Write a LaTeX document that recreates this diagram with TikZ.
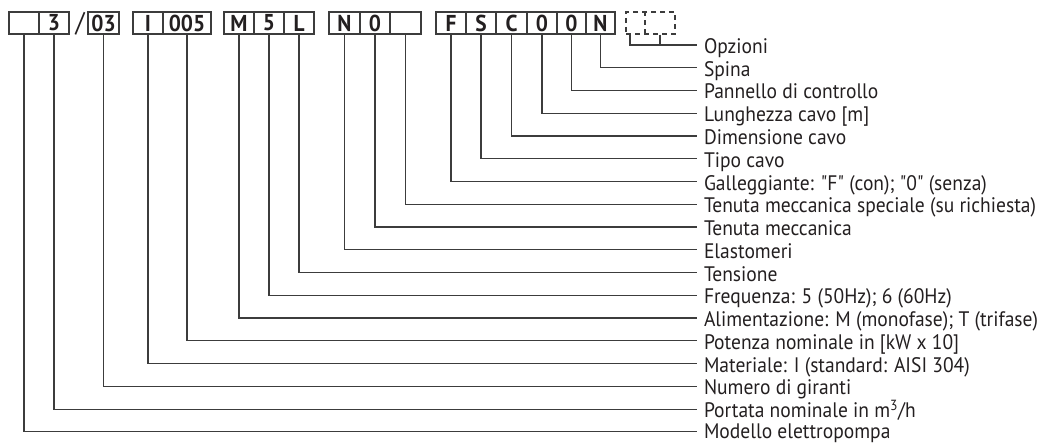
\documentclass[tikz,border=0pt]{standalone}
\usepackage{fontspec}
\setmainfont{PT Sans}[FakeStretch=0.93, Ligatures=TeXOff]
\usetikzlibrary{shapes}
\definecolor{inkgray}{HTML}{231F20}
\definecolor{rulegray}{HTML}{3C3C3C}
\tikzset{
    Cell/.style = {rectangle, draw=rulegray, line width=1.1pt, minimum width=30, minimum height=22, inner sep=0, font=\bfseries\fontsize{23}{23}\selectfont, text=inkgray}
}
\tikzset{
    Label/.style = {anchor=west, inner sep=0, outer xsep=7pt, outer ysep=0, text height=17pt, text depth=0pt, font=\fontsize{21}{21}\selectfont, text=inkgray}
}
\tikzset{
    Edge/.style = {draw=rulegray, line width=1.2pt}
}

\begin{document}
\begin{tikzpicture}[x=1pt, y=-1pt]
\useasboundingbox (0,0) rectangle (1049,443);
% code boxes
\node[Cell] at (24,23) (c1) {};
\node[Cell] at (54,23) (c2) {3};
\node[inner sep=0, font=\fontsize{27}{27}\selectfont, text=inkgray] at (80,23.5) (slash) {/};
\node[Cell, minimum width=31] at (103.5,23) (c3) {03};
\node[Cell] at (148,23) (c4) {I};
\node[Cell, minimum width=48] at (187,23) (c5) {005};
\node[Cell] at (239,23) (c6) {M};
\node[Cell] at (269,23) (c7) {5};
\node[Cell] at (299,23) (c8) {L};
\node[Cell, minimum width=31] at (344.5,23) (c9) {N};
\node[Cell] at (375,23) (c10) {0};
\node[Cell, minimum width=31] at (405.5,23) (c11) {};
\node[Cell] at (451,23) (c12) {F};
\node[Cell] at (481,23) (c13) {S};
\node[Cell, minimum width=31] at (511.5,23) (c14) {C};
\node[Cell] at (542,23) (c15) {0};
\node[Cell] at (571.5,23) (c16) {0};
\node[Cell, minimum width=29] at (600.5,23) (c17) {N};
\node[Cell, dash pattern=on 5pt off 4pt, minimum width=49] at (650.5,23) (opt) {};
\draw[rulegray, line width=1.1pt, dash pattern=on 5pt off 4pt] ([xshift=-5.5]opt.north) -- ([xshift=-5.5]opt.south);
% labels
\node[Label] at (697,45) (l0) {Opzioni};
\node[Label] at (697,67.8) (l1) {Spina};
\node[Label] at (697,90.5) (l2) {Pannello di controllo};
\node[Label] at (697,113.3) (l3) {Lunghezza cavo [m]};
\node[Label] at (697,136) (l4) {Dimensione cavo};
\node[Label] at (697,158.8) (l5) {Tipo cavo};
\node[Label] at (697,181.6) (l6) {Galleggiante: "F" (con); "0" (senza)};
\node[Label] at (697,204.3) (l7) {Tenuta meccanica speciale (su richiesta)};
\node[Label] at (697,227.1) (l8) {Tenuta meccanica};
\node[Label] at (697,249.8) (l9) {Elastomeri};
\node[Label] at (697,272.6) (l10) {Tensione};
\node[Label] at (697,295.4) (l11) {Frequenza: 5 (50Hz); 6 (60Hz)};
\node[Label] at (697,318.1) (l12) {Alimentazione: M (monofase); T (trifase)};
\node[Label] at (697,340.9) (l13) {Potenza nominale in [kW x 10]};
\node[Label] at (697,363.6) (l14) {Materiale: I (standard: AISI 304)};
\node[Label] at (697,386.4) (l15) {Numero di giranti};
\node[Label] at (697,409.2) (l16) {Portata nominale in m\textsuperscript{3}/h};
\node[Label, text height=14pt] at (697,431.4) (l17) {Modello elettropompa};
% connectors
\path (opt.south) ++(-20.5,0) coordinate (o1);
\path (opt.south) ++(9.5,0) coordinate (o2);
\draw[Edge] (o1) |- (l0.west);
\draw[Edge] (o2) -- (o2 |- l0.west);
\draw[Edge] (c17.south) |- (l1.west);
\draw[Edge] (c16.south) |- (l2.west);
\draw[Edge] (c15.south) |- (l3.west);
\draw[Edge] (c14.south) |- (l4.west);
\draw[Edge] (c13.south) |- (l5.west);
\draw[Edge] (c12.south) |- (l6.west);
\draw[Edge] (c11.south) |- (l7.west);
\draw[Edge] (c10.south) |- (l8.west);
\draw[Edge] (c9.south) |- (l9.west);
\draw[Edge] (c8.south) |- (l10.west);
\draw[Edge] (c7.south) |- (l11.west);
\draw[Edge] (c6.south) |- (l12.west);
\draw[Edge] (c5.south) |- (l13.west);
\draw[Edge] (c4.south) |- (l14.west);
\draw[Edge] (c3.south) |- (l15.west);
\draw[Edge] (c2.south) |- (l16.west);
\draw[Edge] (c1.south) |- (l17.west);
\end{tikzpicture}
\end{document}
